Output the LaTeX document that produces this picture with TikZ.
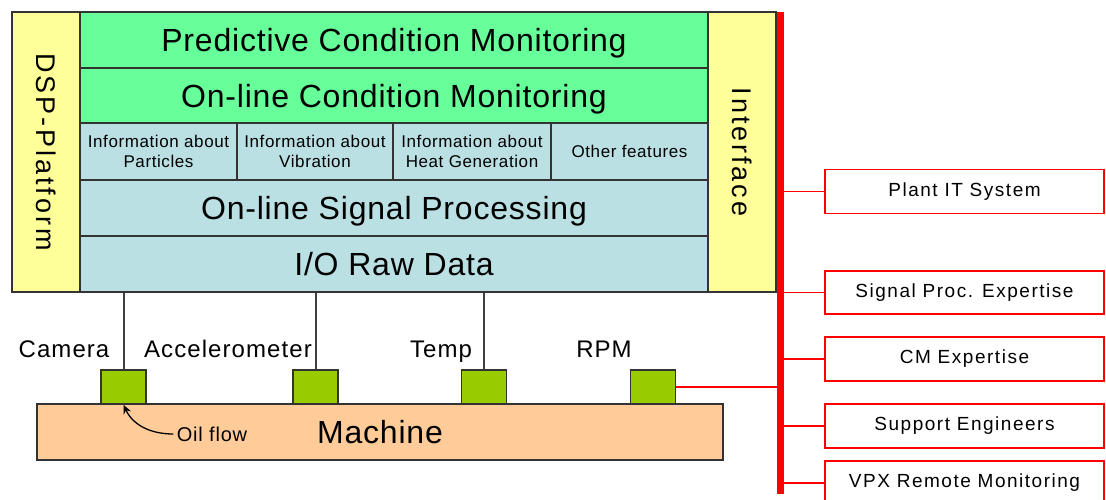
\documentclass[tikz,border=0pt]{standalone}
\usepackage{fontspec}
\setmainfont{Liberation Sans}
\usetikzlibrary{arrows.meta,positioning,calc}
\definecolor{cmgreen}{RGB}{102,255,153}
\definecolor{sigblue}{RGB}{187,224,227}
\definecolor{sideyellow}{RGB}{255,255,153}
\definecolor{machine}{RGB}{255,204,153}
\definecolor{sensor}{RGB}{153,204,0}
\definecolor{edge}{RGB}{51,51,51}
\newcommand{\spaced}[3]{\fontsize{#1}{#2}\selectfont\addfontfeatures{LetterSpace=#3}}
\tikzset{
  box/.style={draw=edge,line width=1.6pt,inner sep=0pt,align=center},
  layer/.style={box,minimum width=628pt,minimum height=56pt,text depth=0pt,font=\spaced{32}{36}{2.5}},
  info/.style={box,fill=sigblue,minimum width=157pt,minimum height=57pt,font=\spaced{17}{20}{3.5}},
  side/.style={box,fill=sideyellow,minimum width=68pt,minimum height=280pt,font=\spaced{27}{30}{11}},
  sens/.style={box,fill=sensor,minimum width=45pt,minimum height=34pt},
  lab/.style={anchor=base,font=\spaced{24}{28}{4.5}},
  ext/.style={draw=red,line width=1.6pt,fill=white,minimum width=279pt,minimum height=44pt,font=\spaced{19}{22}{8}},
  wire/.style={draw=gray!50!black,line width=2pt},
  link/.style={draw=red,line width=1.4pt},
  bus/.style={draw=red,line width=7pt}
}
\begin{document}
\begin{tikzpicture}[x=1pt,y=-1pt]
  \useasboundingbox (0,0) rectangle (1106,500);

  % platform stack
  \node[side] (dsp) at (46,152) {\rotatebox{-90}{DSP-Platform}};
  \node[layer,fill=cmgreen] (pcm) at (394,40) {Predictive Condition Monitoring};
  \node[layer,fill=cmgreen,minimum height=55pt] (ocm) at (394,95.5) {On-line Condition Monitoring};
  \node[info] (part) at (158.5,151.5) {Information about\\Particles};
  \node[info,minimum width=156pt] (vib) at (315,151.5) {Information about\\Vibration};
  \node[info,minimum width=158pt] (heat) at (472,151.5) {Information about\\Heat Generation};
  \node[info] (other) at (629.5,151.5) {Other features};
  \node[layer,fill=sigblue] (osp) at (394,208) {On-line Signal Processing};
  \node[layer,fill=sigblue] (io) at (394,264) {I/O Raw Data};
  \node[side] (intf) at (742,152) {\rotatebox{-90}{Interface}};

  % machine and sensors
  \node[box,fill=machine,minimum width=686pt,minimum height=56pt,font=\spaced{32}{36}{2.5}] (mach) at (380,432) {Machine};
  \node[sens] (cam) at (123.5,387) {};
  \node[sens] (acc) at (315.5,387) {};
  \node[sens] (temp) at (484,387) {};
  \node[sens] (rpm) at (653,387) {};
  \foreach \s in {cam,acc,temp}
    \draw[wire] (\s.north) -- (\s.north |- io.south);

  \node[lab] (camlab) at (64,357) {Camera};
  \node[lab] (acclab) at (228,357) {Accelerometer};
  \node[lab] (templab) at (441,357) {Temp};
  \node[lab] (rpmlab) at (604,357) {RPM};

  \node[font=\spaced{20}{24}{4}] (oil) at (212,434) {Oil flow};
  \draw[-{Stealth[length=9pt,width=8pt]},line width=1.3pt] (oil.west) to[out=180,in=-65] (cam.south);

  % red bus and outside parties
  \coordinate (bustop) at (780,12);
  \coordinate (busbot) at (780,494);
  \draw[bus] (bustop) -- (busbot);
  \draw[link] (rpm.east) -- (rpm.east -| bustop);

  \node[ext] (plant) at (964.5,191.5) {Plant IT System};
  \node[ext,minimum height=43pt] (spx) at (964.5,292.5) {Signal Proc. Expertise};
  \node[ext] (cmx) at (964.5,359) {CM Expertise};
  \node[ext] (supp) at (964.5,426) {Support Engineers};
  \node[ext] (vpx) at (964.5,483) {VPX Remote Monitoring};
  \foreach \e in {plant,spx,cmx,supp,vpx}
    \draw[link] (\e.west) -- (\e.west -| bustop);
\end{tikzpicture}
\end{document}
